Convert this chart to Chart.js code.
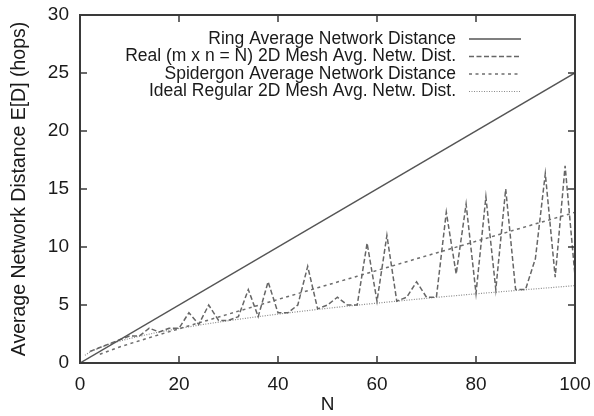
<!DOCTYPE html>
<html>
<head>
<meta charset="utf-8">
<script src="https://cdn.jsdelivr.net/npm/chart.js@4.4.1/dist/chart.umd.min.js"></script>
<style>
  html, body { margin: 0; padding: 0; background: #ffffff; }
  #wrap { width: 594px; height: 416px; }
</style>
</head>
<body>
<div id="wrap"><canvas id="c" width="594" height="416"></canvas></div>
<script>
// ---- data ----
const seriesLabels = [
  'Ring Average Network Distance',
  'Real (m x n = N) 2D Mesh Avg. Netw. Dist.',
  'Spidergon Average Network Distance',
  'Ideal Regular 2D Mesh Avg. Netw. Dist.'
];

const ringN = [0, 100];
const ringD = [0, 25];

const meshN = [2, 4, 6, 8, 10, 12, 14, 16, 18, 20, 22, 24, 26, 28, 30, 32, 34, 36, 38, 40,
               42, 44, 46, 48, 50, 52, 54, 56, 58, 60, 62, 64, 66, 68, 70, 72, 74, 76, 78, 80,
               82, 84, 86, 88, 90, 92, 94, 96, 98, 100];
const meshD = [1.0, 1.33, 1.67, 2.0, 2.33, 2.33, 3.0, 2.67, 3.0, 3.0, 4.33, 3.33, 5.0, 3.67, 3.67, 4.0, 6.33, 4.0, 7.0, 4.33,
               4.33, 5.0, 8.33, 4.67, 5.0, 5.67, 5.0, 5.0, 10.33, 5.33, 11.0, 5.33, 5.67, 7.0, 5.67, 5.67, 13.0, 7.67, 13.7, 6.0,
               14.33, 6.33, 15.0, 6.33, 6.33, 9.0, 16.33, 7.4, 17.0, 7.5];

const spiderN = [4, 8, 12, 16, 20, 24, 28, 32, 36, 40, 44, 48, 52, 56, 60, 64, 68, 72, 76, 80, 84, 88, 92, 96, 100];
const spiderD = [0.75, 1.38, 1.92, 2.44, 2.95, 3.46, 3.96, 4.47, 4.97, 5.48, 5.98, 6.48, 6.98, 7.48, 7.98, 8.48, 8.99, 9.49, 9.99, 10.49, 10.99, 11.49, 11.99, 12.49, 12.99];

const idealN = [1, 2, 3, 4, 6, 8, 10, 13, 16, 20, 25, 30, 36, 42, 49, 56, 64, 72, 81, 90, 100];
const idealD = [0.67, 0.94, 1.15, 1.33, 1.63, 1.89, 2.11, 2.40, 2.67, 2.98, 3.33, 3.65, 4.0, 4.32, 4.67, 4.99, 5.33, 5.66, 6.0, 6.32, 6.67];

const xTicks = [0, 20, 40, 60, 80, 100];
const yTicks = [0, 5, 10, 15, 20, 25, 30];
const xTitle = 'N';
const yTitle = 'Average Network Distance E[D] (hops)';

// ---- helpers ----
const pts = (xs, ys) => xs.map((x, i) => ({ x: x, y: ys[i] }));
const FONT = '"Liberation Sans", Arial, Helvetica, sans-serif';

const frameTicks = {
  id: 'frameTicks',
  afterDatasetsDraw(chart) {
    const { ctx, chartArea: a, scales } = chart;
    ctx.save();
    ctx.strokeStyle = '#3a3a3a';
    ctx.lineWidth = 2;
    ctx.strokeRect(a.left, a.top, a.right - a.left, a.bottom - a.top);
    ctx.lineWidth = 1.5;
    const L = 7;
    ctx.beginPath();
    xTicks.slice(1, -1).forEach(v => {
      const px = scales.x.getPixelForValue(v);
      ctx.moveTo(px, a.bottom); ctx.lineTo(px, a.bottom - L);
      ctx.moveTo(px, a.top); ctx.lineTo(px, a.top + L);
    });
    yTicks.slice(1, -1).forEach(v => {
      const py = scales.y.getPixelForValue(v);
      ctx.moveTo(a.left, py); ctx.lineTo(a.left + L, py);
      ctx.moveTo(a.right, py); ctx.lineTo(a.right - L, py);
    });
    ctx.stroke();
    ctx.restore();
  }
};

const insideLegend = {
  id: 'insideLegend',
  afterDraw(chart) {
    const { ctx, chartArea: a } = chart;
    ctx.save();
    ctx.font = '17.5px ' + FONT;
    ctx.textAlign = 'right';
    ctx.textBaseline = 'middle';
    chart.data.datasets.forEach((ds, i) => {
      const y = a.top + 24 + i * 17.5;
      ctx.fillStyle = '#1a1a1a';
      ctx.fillText(ds.label, a.right - 119, y);
      ctx.strokeStyle = ds.borderColor;
      ctx.lineWidth = ds.borderWidth;
      ctx.setLineDash(ds.borderDash || []);
      ctx.beginPath();
      ctx.moveTo(a.right - 106, y);
      ctx.lineTo(a.right - 54, y);
      ctx.stroke();
    });
    ctx.restore();
  }
};

const common = { showLine: true, pointRadius: 0, fill: false, tension: 0 };

new Chart(document.getElementById('c'), {
  type: 'scatter',
  data: {
    datasets: [
      Object.assign({ label: seriesLabels[0], data: pts(ringN, ringD), borderColor: '#555555', borderWidth: 1.5, borderDash: [] }, common),
      Object.assign({ label: seriesLabels[1], data: pts(meshN, meshD), borderColor: '#666666', borderWidth: 1.5, borderDash: [5, 2.5] }, common),
      Object.assign({ label: seriesLabels[2], data: pts(spiderN, spiderD), borderColor: '#6e6e6e', borderWidth: 1.5, borderDash: [3, 3.5] }, common),
      Object.assign({ label: seriesLabels[3], data: pts(idealN, idealD), borderColor: '#8a8a8a', borderWidth: 1.2, borderDash: [1, 1.5] }, common)
    ]
  },
  options: {
    responsive: false,
    animation: false,
    devicePixelRatio: 1,
    layout: { padding: { left: 0, right: 19, top: 15, bottom: 0 } },
    plugins: { legend: { display: false }, tooltip: { enabled: false } },
    scales: {
      x: {
        type: 'linear', min: 0, max: 100,
        afterBuildTicks: s => { s.ticks = xTicks.map(v => ({ value: v })); },
        afterFit: s => { s.height = 53; s.paddingLeft = 0; s.paddingRight = 0; },
        grid: { display: false, drawTicks: false },
        border: { display: false },
        ticks: { color: '#1a1a1a', padding: 10, maxRotation: 0, font: { family: FONT, size: 19 } },
        title: { display: true, text: xTitle, color: '#1a1a1a', padding: { top: 0, bottom: 0 }, font: { family: FONT, size: 19 } }
      },
      y: {
        type: 'linear', min: 0, max: 30,
        afterBuildTicks: s => { s.ticks = yTicks.map(v => ({ value: v })); },
        afterFit: s => { s.width = 80; s.paddingTop = 0; s.paddingBottom = 0; },
        grid: { display: false, drawTicks: false },
        border: { display: false },
        ticks: { color: '#1a1a1a', padding: 11, font: { family: FONT, size: 19 } },
        title: { display: true, text: yTitle, color: '#1a1a1a', padding: { top: 8, bottom: 0 }, font: { family: FONT, size: 19.5 } }
      }
    }
  },
  plugins: [frameTicks, insideLegend]
});
</script>
</body>
</html>
